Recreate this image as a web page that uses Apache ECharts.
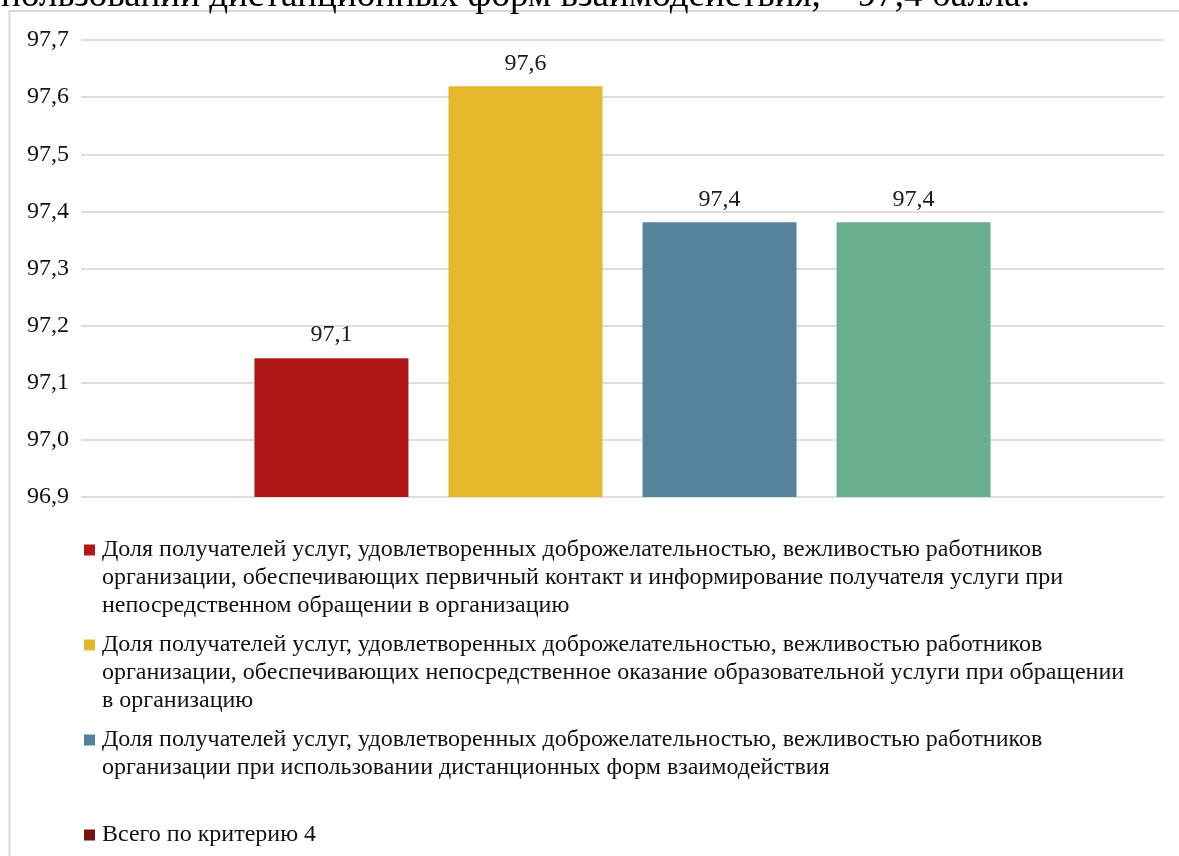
<!DOCTYPE html>
<html>
<head>
<meta charset="utf-8">
<script src="https://cdn.jsdelivr.net/npm/echarts@6/dist/echarts.min.js"></script>
<style>
  html, body { margin: 0; padding: 0; background: #fff; }
  #chart { width: 1179px; height: 856px; }
</style>
</head>
<body>
<div id="chart"></div>
<script>
var categories = ['Критерий 4'];
var seriesNames = [
  'Доля получателей услуг, удовлетворенных доброжелательностью, вежливостью работников\nорганизации, обеспечивающих первичный контакт и информирование получателя услуги при\nнепосредственном обращении в организацию',
  'Доля получателей услуг, удовлетворенных доброжелательностью, вежливостью работников\nорганизации, обеспечивающих непосредственное оказание образовательной услуги при обращении\nв организацию',
  'Доля получателей услуг, удовлетворенных доброжелательностью, вежливостью работников\nорганизации при использовании дистанционных форм взаимодействия',
  'Всего по критерию 4'
];
var seriesValues = [97.143, 97.619, 97.381, 97.381];
var barColors = ['#b01616', '#e5b72a', '#55849a', '#6aad8f'];
var legendColors = ['#b01616', '#e5b72a', '#55849a', '#761212'];
var yTicks = [96.9, 97.0, 97.1, 97.2, 97.3, 97.4, 97.5, 97.6, 97.7];

var font = '"Liberation Serif", "Times New Roman", serif';
var lineH = 28;
var itemH = 84;

function fmt(v) {
  return Number(v).toFixed(1).replace('.', ',');
}

// legend icon: small square against the first text line, box kept itemH tall
var iconPath = 'path://M0,0L0.01,0L0,0.01Z M11,' + itemH + 'L10.99,' + itemH + 'L11,' + (itemH - 0.01) + 'Z M0,' + (lineH / 2 - 5.5) + 'h11v11h-11Z';

var chart = echarts.init(document.getElementById('chart'));

var series = [];
var legendData = [];
for (var i = 0; i < seriesNames.length; i++) {
  series.push({
    name: seriesNames[i],
    type: 'bar',
    barWidth: 154,
    barGap: '26%',
    data: [seriesValues[i]],
    itemStyle: { color: barColors[i] },
    label: {
      show: true,
      position: 'top',
      distance: 11,
      formatter: function(p) { return fmt(p.value); },
      fontFamily: font,
      fontSize: 24,
      color: '#1a1a1a'
    }
  });
  legendData.push({
    name: seriesNames[i],
    icon: iconPath,
    itemStyle: { color: legendColors[i] }
  });
}

var option = {
  animation: false,
  backgroundColor: '#fff',
  graphic: [
    {
      type: 'rect',
      shape: { x: 9.5, y: 11, width: 1300, height: 1000 },
      style: { fill: 'none', stroke: '#d9d9d9', lineWidth: 2 },
      silent: true
    },
    {
      type: 'text',
      x: 1030,
      y: -4,
      style: {
        text: 'пользовании дистанционных форм взаимодействия, – 97,4 балла.',
        font: '37px ' + font,
        fill: '#000',
        textAlign: 'right',
        textVerticalAlign: 'middle'
      },
      silent: true
    }
  ],
  grid: {
    left: 81,
    right: 15,
    top: 40,
    bottom: 359
  },
  legend: {
    orient: 'vertical',
    left: 84,
    top: 536,
    height: 420,
    padding: 0,
    itemWidth: 11,
    itemHeight: itemH,
    itemGap: 11,
    selectedMode: false,
    data: legendData,
    // pad every entry to three lines so the text starts at the top of its item
    formatter: function(name) {
      var n = name.split('\n').length;
      var out = name;
      for (var k = n; k < 3; k++) out += '\n\u00a0';
      return out;
    },
    textStyle: {
      fontFamily: font,
      fontSize: 24,
      lineHeight: lineH,
      color: '#111',
      padding: [0, 0, 0, 2]
    }
  },
  xAxis: {
    type: 'category',
    data: categories,
    axisLine: { show: false },
    axisTick: { show: false },
    axisLabel: { show: false }
  },
  yAxis: {
    type: 'value',
    min: yTicks[0],
    max: yTicks[yTicks.length - 1],
    interval: 0.1,
    axisLine: { show: false },
    axisTick: { show: false },
    axisLabel: {
      margin: 12,
      fontFamily: font,
      fontSize: 24,
      color: '#111',
      formatter: function(v) { return fmt(v); }
    },
    splitLine: { lineStyle: { color: '#dedede', width: 2 } }
  },
  series: series
};
chart.setOption(option);
</script>
</body>
</html>
